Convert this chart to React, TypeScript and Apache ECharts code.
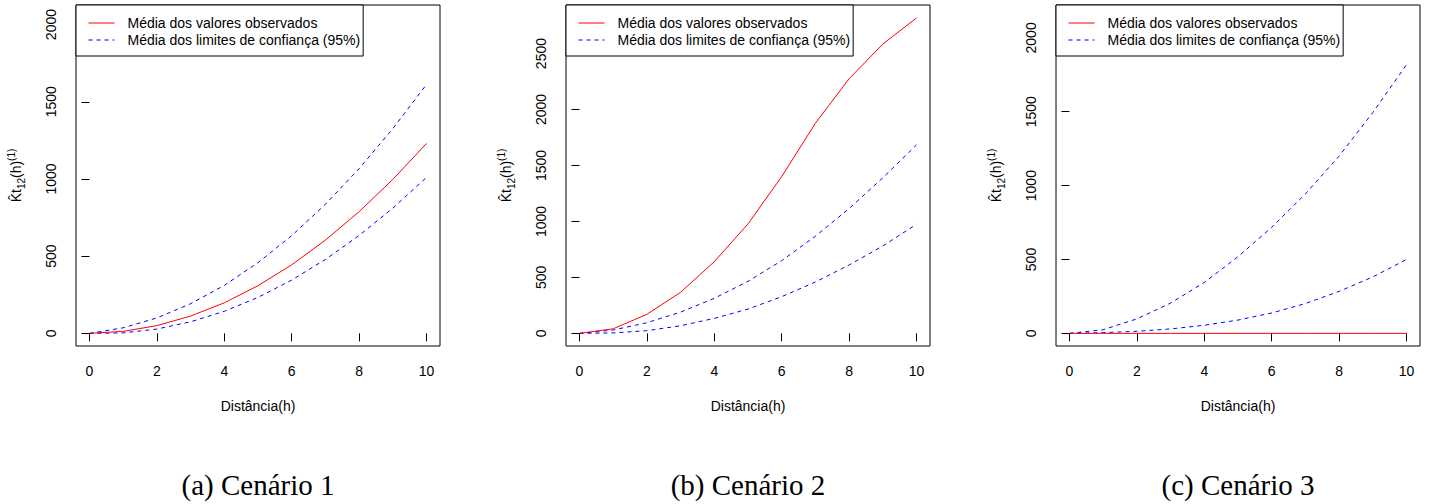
import React, { useEffect, useRef } from "react";
import * as echarts from "echarts";

const xs = [0, 1, 2, 3, 4, 5, 6, 7, 8, 9, 10];
const xTicks = [0, 2, 4, 6, 8, 10];

const obs1 = [0, 13, 50, 112, 198, 309, 444, 604, 788, 997, 1230];
const up1 = [0, 36, 100, 192, 311, 458, 633, 836, 1067, 1326, 1612];
const lo1 = [0, 3, 28, 75, 143, 233, 345, 479, 634, 811, 1010];

const obs2 = [0, 41, 170, 367, 641, 978, 1401, 1878, 2275, 2585, 2818];
const up2 = [0, 30, 95, 190, 313, 465, 650, 868, 1115, 1390, 1684];
const lo2 = [0, 4, 24, 68, 134, 217, 328, 459, 611, 781, 975];

const obs3 = [0, 0, 0, 0, 0, 0, 0, 0, 0, 0, 0];
const up3 = [0, 25, 98, 205, 345, 519, 718, 944, 1200, 1495, 1818];
const lo3 = [0, 5, 14, 30, 55, 90, 138, 202, 284, 382, 500];

const yTicks1 = [0, 500, 1000, 1500, 2000];
const yTicks2 = [0, 500, 1000, 1500, 2000, 2500];
const yTicks3 = [0, 500, 1000, 1500, 2000];

const captions = ["(a) Cenário 1", "(b) Cenário 2", "(c) Cenário 3"];
const nameObs = "Média dos valores observados";
const nameCI = "Média dos limites de confiança (95%)";
const xName = "Distância(h)";

// R-style ylim = data range, padded 4% on each side
const yRanges = [
  [0, 2045],
  [0, 2821],
  [0, 2137],
];

const FONT = "Liberation Sans";

export default function App() {
  const ref = useRef<HTMLDivElement>(null);
  useEffect(() => {
    const chart = echarts.init(ref.current!, null, { renderer: "svg" });
    const panels = [
      { obs: obs1, up: up1, lo: lo1, ticks: yTicks1 },
      { obs: obs2, up: up2, lo: lo2, ticks: yTicks2 },
      { obs: obs3, up: up3, lo: lo3, ticks: yTicks3 },
    ];
    const gridLeft = (i: number) => 76 + 490 * i;
    const pair = (vals: number[]) => xs.map((x, k) => [x, vals[k]]);
    const plain = (v: number) => String(v);
    const grids: any[] = [];
    const xAxes: any[] = [];
    const yAxes: any[] = [];
    const legends: any[] = [];
    const series: any[] = [];
    const graphics: any[] = [];
    panels.forEach((p, i) => {
      const [r0, r1] = yRanges[i];
      const pad = (r1 - r0) * 0.04;
      grids.push({
        left: gridLeft(i),
        top: 5,
        width: 364,
        height: 341,
        show: true,
        borderColor: "#000",
        borderWidth: 1,
        backgroundColor: "transparent",
      });
      xAxes.push({
        type: "value",
        gridIndex: i,
        min: -0.4,
        max: 10.4,
        axisLine: { show: false },
        axisTick: { show: true, length: 8, lineStyle: { color: "#000" }, customValues: xTicks },
        axisLabel: { fontSize: 14, color: "#000", margin: 18, fontFamily: FONT, customValues: xTicks, formatter: plain },
        splitLine: { show: false },
        name: xName,
        nameLocation: "middle",
        nameGap: 53,
        nameTextStyle: { fontSize: 14, color: "#000", fontFamily: FONT },
      });
      yAxes.push({
        type: "value",
        gridIndex: i,
        min: r0 - pad,
        max: r1 + pad,
        axisLine: { show: false },
        axisTick: { show: true, length: 8, lineStyle: { color: "#000" }, customValues: p.ticks },
        axisLabel: { fontSize: 14, color: "#000", margin: 18, rotate: 90, fontFamily: FONT, customValues: p.ticks, formatter: plain },
        splitLine: { show: false },
        name: "{k|K\u0302t}{s|12}{k|(h)}{p|(1)}",
        nameLocation: "middle",
        nameGap: 50,
        nameTextStyle: {
          fontSize: 14,
          color: "#000",
          fontFamily: FONT,
          rich: {
            k: { fontSize: 14, lineHeight: 20, color: "#000", fontFamily: FONT },
            s: { fontSize: 10, lineHeight: 10, verticalAlign: "bottom", color: "#000", fontFamily: FONT },
            p: { fontSize: 10, lineHeight: 10, verticalAlign: "top", color: "#000", fontFamily: FONT },
          },
        },
      });
      legends.push({
        orient: "vertical",
        left: gridLeft(i),
        top: 5,
        padding: [11, 3, 9, 12],
        itemWidth: 26,
        itemHeight: 14,
        itemGap: 3,
        borderColor: "#000",
        borderWidth: 1,
        borderRadius: 0,
        backgroundColor: "#fff",
        selectedMode: false,
        itemStyle: { opacity: 0 },
        lineStyle: { width: 1 },
        textStyle: { fontSize: 14, color: "#000", fontFamily: FONT, padding: [0, 0, 0, 8] },
        data: [nameObs, nameCI],
      });
      series.push(
        {
          type: "line",
          name: nameCI,
          xAxisIndex: i,
          yAxisIndex: i,
          data: pair(p.up),
          symbol: "none",
          lineStyle: { color: "#0000FF", width: 1, type: [4, 4] },
          itemStyle: { color: "#0000FF" },
        },
        {
          type: "line",
          name: nameCI,
          xAxisIndex: i,
          yAxisIndex: i,
          data: pair(p.lo),
          symbol: "none",
          lineStyle: { color: "#0000FF", width: 1, type: [4, 4] },
          itemStyle: { color: "#0000FF" },
        },
        {
          type: "line",
          name: nameObs,
          xAxisIndex: i,
          yAxisIndex: i,
          data: pair(p.obs),
          symbol: "none",
          lineStyle: { color: "#FF0000", width: 1, type: "solid" },
          itemStyle: { color: "#FF0000" },
        }
      );
      graphics.push({
        type: "text",
        x: gridLeft(i) + 182,
        y: 485,
        style: {
          text: captions[i],
          font: '29px "Liberation Serif"',
          fill: "#000",
          textAlign: "center",
          textVerticalAlign: "middle",
        },
      });
    });
    chart.setOption({
      animation: false,
      backgroundColor: "#fff",
      textStyle: { fontFamily: FONT },
      grid: grids,
      xAxis: xAxes,
      yAxis: yAxes,
      legend: legends,
      series,
      graphic: graphics,
    });
    return () => chart.dispose();
  }, []);
  return (
    <div
      ref={ref}
      style={{ position: "fixed", left: 0, top: 0, width: 1433, height: 504 }}
    />
  );
}
